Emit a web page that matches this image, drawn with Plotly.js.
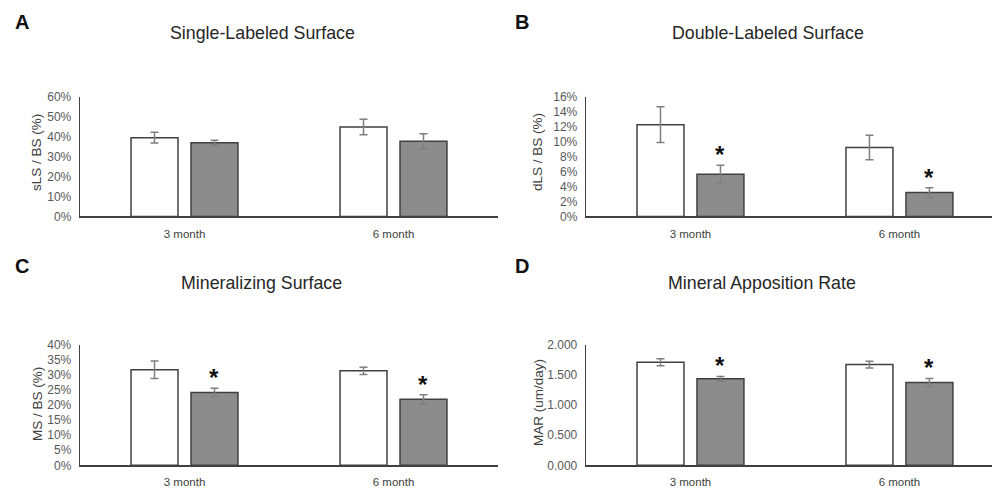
<!DOCTYPE html>
<html>
<head>
<meta charset="utf-8">
<script src="https://cdn.plot.ly/plotly-3.0.1.min.js"></script>
<style>html,body{margin:0;padding:0;background:#fff}#chart{width:992px;height:490px}</style>
</head>
<body>
<div id="chart"></div>
<script>
// ---- data ----
const categories = ["3 month", "6 month"];

const sLS_ctrl = [0.396, 0.449];
const sLS_ctrl_err = [0.0275, 0.039];
const sLS_trt = [0.370, 0.3775];
const sLS_trt_err = [0.0125, 0.0375];
const sLS_sig = [false, false];

const dLS_ctrl = [0.123, 0.0924];
const dLS_ctrl_err = [0.024, 0.0163];
const dLS_trt = [0.0567, 0.032];
const dLS_trt_err = [0.0118, 0.0065];
const dLS_sig = [true, true];

const MS_ctrl = [0.318, 0.314];
const MS_ctrl_err = [0.029, 0.012];
const MS_trt = [0.242, 0.220];
const MS_trt_err = [0.014, 0.015];
const MS_sig = [true, true];

const MAR_ctrl = [1.713, 1.674];
const MAR_ctrl_err = [0.058, 0.058];
const MAR_trt = [1.437, 1.375];
const MAR_trt_err = [0.040, 0.070];
const MAR_sig = [true, true];

const panelLetters = ["A", "B", "C", "D"];
const panelTitles = ["Single-Labeled Surface", "Double-Labeled Surface", "Mineralizing Surface", "Mineral Apposition Rate"];
const yTitles = ["sLS / BS (%)", "dLS / BS (%)", "MS / BS (%)", "MAR (um/day)"];

// ---- styling ----
const W = 992, H = 490;
const FONT = "Liberation Sans, Arial, sans-serif";
const outline = {color: "#404040", width: 1.5};
const errStyle = {color: "#7f7f7f", thickness: 1.5, width: 4};
const BARGAP = 0.426, GROUPGAP = 0.217;

const panels = [
  {ctrl: sLS_ctrl, ce: sLS_ctrl_err, trt: sLS_trt, te: sLS_trt_err, sig: sLS_sig,
   xd: [80/W, 498/W], yd: [0.5582, 0.802], range: [0, 0.6], dtick: 0.1, fmt: ".0%", xr: [-0.5, 1.5]},
  {ctrl: dLS_ctrl, ce: dLS_ctrl_err, trt: dLS_trt, te: dLS_trt_err, sig: dLS_sig,
   xd: [586/W, 1], yd: [0.5582, 0.802], range: [0, 0.16], dtick: 0.02, fmt: ".0%", xr: [-0.5, 1.443]},
  {ctrl: MS_ctrl, ce: MS_ctrl_err, trt: MS_trt, te: MS_trt_err, sig: MS_sig,
   xd: [80/W, 498/W], yd: [0.0504, 0.2959], range: [0, 0.4], dtick: 0.05, fmt: ".0%", xr: [-0.5, 1.5]},
  {ctrl: MAR_ctrl, ce: MAR_ctrl_err, trt: MAR_trt, te: MAR_trt_err, sig: MAR_sig,
   xd: [586/W, 1], yd: [0.0504, 0.2959], range: [0, 2.0], dtick: 0.5, fmt: ".3f", xr: [-0.5, 1.443]}
];

const letterPos = [[13, 22], [513, 22], [13, 266], [513, 266]];
const titlePos = [[262, 33], [768, 33], [261, 283], [762, 283]];
const yTitlePos = [[37, 153], [538, 152], [37, 404], [538, 403]];

const traces = [];
const layout = {
  width: W, height: H,
  margin: {l: 0, r: 0, t: 0, b: 0},
  paper_bgcolor: "#fff", plot_bgcolor: "rgba(0,0,0,0)",
  showlegend: false,
  barmode: "group", bargap: BARGAP, bargroupgap: GROUPGAP,
  font: {family: FONT, color: "#595959", size: 11},
  annotations: []
};

panels.forEach((p, i) => {
  const n = i === 0 ? "" : String(i + 1);
  const xa = "x" + n, ya = "y" + n;
  traces.push({
    type: "bar", x: categories, y: p.ctrl, xaxis: xa, yaxis: ya,
    marker: {color: "#ffffff", line: outline},
    error_y: Object.assign({type: "data", array: p.ce, visible: true}, errStyle),
    hoverinfo: "y"
  });
  traces.push({
    type: "bar", x: categories, y: p.trt, xaxis: xa, yaxis: ya,
    marker: {color: "#8c8c8c", line: outline},
    error_y: Object.assign({type: "data", array: p.te, visible: true}, errStyle),
    hoverinfo: "y"
  });
  layout["xaxis" + n] = {
    domain: p.xd, anchor: ya, range: p.xr, type: "category",
    showline: true, linecolor: "#404040", linewidth: 1.3,
    ticks: "", showgrid: false, zeroline: false, fixedrange: true,
    tickfont: {family: FONT, size: 11.5, color: "#404040"}, ticklabelstandoff: 6
  };
  layout["yaxis" + n] = {
    domain: p.yd, anchor: xa, range: p.range, dtick: p.dtick, tick0: 0,
    tickformat: p.fmt,
    showline: true, linecolor: "#404040", linewidth: 1.3,
    ticks: "", showgrid: false, zeroline: false, fixedrange: true,
    tickfont: {family: FONT, size: 12, color: "#595959"}, ticklabelstandoff: 5
  };
  // significance stars above treatment bars
  const plotW = (p.xd[1] - p.xd[0]) * W;
  const catW = plotW / (p.xr[1] - p.xr[0]);
  const slot = catW * (1 - BARGAP) / 2;
  p.sig.forEach((s, k) => {
    if (!s) return;
    layout.annotations.push({
      xref: xa, yref: ya, x: categories[k], y: p.trt[k] + p.te[k],
      xshift: slot / 2, yshift: -5, yanchor: "bottom", xanchor: "center",
      text: "<b>*</b>", showarrow: false,
      font: {family: FONT, size: 24, color: "#111"}
    });
  });
  // panel letter
  layout.annotations.push({
    xref: "paper", yref: "paper", x: letterPos[i][0] / W, y: 1 - letterPos[i][1] / H,
    xanchor: "left", yanchor: "middle", text: "<b>" + panelLetters[i] + "</b>",
    showarrow: false, font: {family: FONT, size: 20, color: "#111"}
  });
  // panel title
  layout.annotations.push({
    xref: "paper", yref: "paper", x: titlePos[i][0] / W, y: 1 - titlePos[i][1] / H,
    xanchor: "center", yanchor: "middle", text: panelTitles[i],
    showarrow: false, font: {family: FONT, size: 17.8, color: "#262626"}
  });
  // y-axis title
  layout.annotations.push({
    xref: "paper", yref: "paper", x: yTitlePos[i][0] / W, y: 1 - yTitlePos[i][1] / H,
    xanchor: "center", yanchor: "middle", text: yTitles[i], textangle: -90,
    showarrow: false, font: {family: FONT, size: 13.5, color: "#404040"}
  });
});

Plotly.newPlot("chart", traces, layout, {displayModeBar: false, staticPlot: true});
</script>
</body>
</html>
